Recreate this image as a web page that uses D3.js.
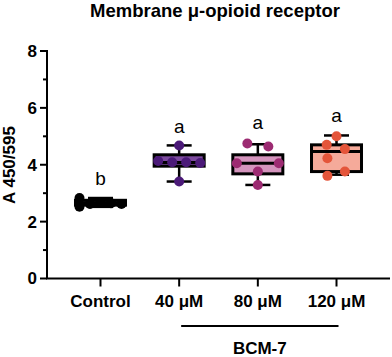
<!DOCTYPE html>
<html><head><meta charset="utf-8">
<script src="https://cdn.jsdelivr.net/npm/d3@7"></script>
<style>html,body{margin:0;padding:0;background:#fff;}svg{display:block;}</style>
</head><body>
<svg id="chart" width="392" height="357"></svg>
<script>
// ---- data ----
const categories = ["Control", "40 μM", "80 μM", "120 μM"];
const pointValues = [
  [2.83, 2.52, 2.62, 2.68, 2.65, 2.62],
  [4.68, 4.13, 4.09, 4.09, 4.06, 3.41],
  [4.75, 4.64, 4.05, 4.05, 3.76, 3.29],
  [5.00, 4.70, 4.55, 4.23, 3.76, 3.61]
];
// swarm slot of each point (ordinal column inside its group)
const swarmSlots = [
  [-3, -3, -1.5, 0, 1.5, 3],
  [0, -3, -1, 1, 3, 0],
  [-1.5, 1.5, -3, 3, 0, 0],
  [0, -1.4, 1.2, -1.3, 1.2, -1.3]
];
const boxMin    = [2.52, 3.41, 3.29, 3.65];
const boxQ1     = [2.58, 3.95, 3.68, 3.76];
const boxMedian = [2.66, 4.08, 4.05, 4.47];
const boxQ3     = [2.75, 4.35, 4.35, 4.70];
const boxMax    = [2.83, 4.68, 4.72, 5.03];
const sigLetters = ["b", "a", "a", "a"];
const sigLetterAt = [3.29, 5.12, 5.26, 5.50];
const yTicks = [0, 1, 2, 3, 4, 5, 6, 7, 8];
const pointColors = ["#000000", "#4b1a78", "#9c2b72", "#e4553a"];
const boxFills = ["#777777", "#7c4a9e", "#d494bd", "#f5aa9a"];
const groupLabel = "BCM-7";
const groupMembers = ["40 μM", "120 μM"];

// ---- layout ----
const svg = d3.select("#chart");
const font = "'Liberation Sans', Arial, sans-serif";
const x = d3.scaleBand().domain(categories).range([47, 390]).paddingInner(0).paddingOuter(0.18);
const y = d3.scaleLinear().domain([0, 8]).range([278.5, 51]);
const slot = d3.scaleLinear().domain([-1, 1]).range([-7, 7]);
const cx = c => x(c) + x.bandwidth() / 2;
const boxHalf = 25, capHalf = 12.5;

// title
svg.append("text").attr("x", 215).attr("y", 17).attr("text-anchor", "middle")
  .attr("font-family", font).attr("font-weight", "bold").attr("font-size", 18.5)
  .text("Membrane μ-opioid receptor");

// y axis
const gy = svg.append("g");
gy.append("line").attr("x1", 47).attr("x2", 47).attr("y1", y(8) - 1).attr("y2", y(0))
  .attr("stroke", "#000").attr("stroke-width", 2);
yTicks.forEach(t => {
  const major = t % 2 === 0;
  gy.append("line").attr("x1", major ? 40 : 43).attr("x2", 47).attr("y1", y(t)).attr("y2", y(t))
    .attr("stroke", "#000").attr("stroke-width", 2);
  if (major) gy.append("text").attr("x", 37).attr("y", y(t)).attr("dy", "0.35em")
    .attr("text-anchor", "end").attr("font-family", font).attr("font-weight", "bold")
    .attr("font-size", 17).text(t);
});
svg.append("text").attr("transform", `translate(15,165) rotate(-90)`).attr("text-anchor", "middle")
  .attr("font-family", font).attr("font-weight", "bold").attr("font-size", 17).text("A 450/595");

// x axis
const gx = svg.append("g");
gx.append("line").attr("x1", 46).attr("x2", 390).attr("y1", y(0)).attr("y2", y(0))
  .attr("stroke", "#000").attr("stroke-width", 2);
categories.forEach(c => {
  gx.append("line").attr("x1", cx(c)).attr("x2", cx(c)).attr("y1", y(0)).attr("y2", y(0) + 8)
    .attr("stroke", "#000").attr("stroke-width", 2);
  gx.append("text").attr("x", cx(c)).attr("y", 307).attr("text-anchor", "middle")
    .attr("font-family", font).attr("font-weight", "bold").attr("font-size", 17).text(c);
});
// group bracket
svg.append("line").attr("x1", cx(groupMembers[0]) + 2).attr("x2", cx(groupMembers[1]) + 2)
  .attr("y1", 326).attr("y2", 326).attr("stroke", "#000").attr("stroke-width", 2);
svg.append("text").attr("x", (cx(groupMembers[0]) + cx(groupMembers[1])) / 2 + 2).attr("y", 354)
  .attr("text-anchor", "middle").attr("font-family", font).attr("font-weight", "bold")
  .attr("font-size", 17).text(groupLabel);

// boxes
categories.forEach((c, i) => {
  const g = svg.append("g");
  const m = cx(c);
  // whiskers
  g.append("line").attr("x1", m).attr("x2", m).attr("y1", y(boxMax[i])).attr("y2", y(boxMin[i]))
    .attr("stroke", "#000").attr("stroke-width", 2.5);
  [boxMax[i], boxMin[i]].forEach(v => g.append("line").attr("x1", m - capHalf).attr("x2", m + capHalf)
    .attr("y1", y(v)).attr("y2", y(v)).attr("stroke", "#000").attr("stroke-width", 2.5));
  g.append("rect").attr("x", m - boxHalf).attr("width", boxHalf * 2)
    .attr("y", y(boxQ3[i])).attr("height", y(boxQ1[i]) - y(boxQ3[i]))
    .attr("fill", boxFills[i]).attr("stroke", "#000").attr("stroke-width", 3);
  g.append("line").attr("x1", m - boxHalf).attr("x2", m + boxHalf)
    .attr("y1", y(boxMedian[i])).attr("y2", y(boxMedian[i])).attr("stroke", "#000").attr("stroke-width", 3);
  // points
  g.selectAll("circle").data(pointValues[i]).join("circle")
    .attr("cx", (d, j) => m + slot(swarmSlots[i][j])).attr("cy", d => y(d)).attr("r", 5)
    .attr("fill", pointColors[i]);
  // significance letter
  g.append("text").attr("x", m).attr("y", y(sigLetterAt[i])).attr("text-anchor", "middle")
    .attr("font-family", font).attr("font-size", 19).text(sigLetters[i]);
});
</script>
</body></html>
